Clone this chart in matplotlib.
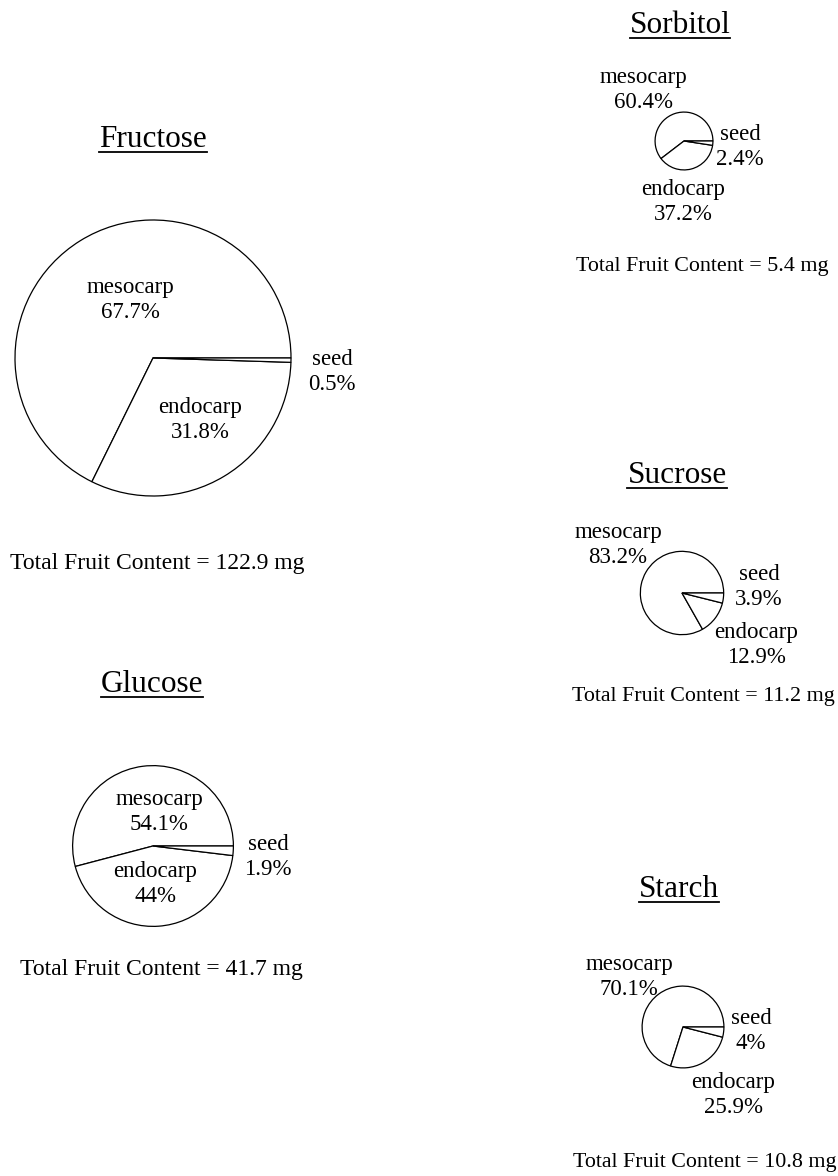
import numpy as np
import matplotlib
matplotlib.use("Agg")
import matplotlib.pyplot as plt

# data
sugars = ["Fructose", "Sorbitol", "Sucrose", "Glucose", "Starch"]
parts = ["mesocarp", "endocarp", "seed"]
fructose = [67.7, 31.8, 0.5]
sorbitol = [60.4, 37.2, 2.4]
sucrose = [83.2, 12.9, 3.9]
glucose = [54.1, 44, 1.9]
starch = [70.1, 25.9, 4]
totals = [122.9, 5.4, 11.2, 41.7, 10.8]  # mg

shares = [fructose, sorbitol, sucrose, glucose, starch]

# layout, in pixels from the top left corner
W, H = 838, 1176
centers = [(153, 358), (684, 141), (682, 593), (153, 846), (683, 1027)]
r_max = 138  # radius of the biggest pie, area goes with total content
title_pos = [(153, 147), (680, 33), (677, 483), (152, 692), (679, 897)]
total_pos = [(157, 563), (702, 266), (703, 696), (161, 970), (705, 1162)]
total_size = [17, 15.8, 15.8, 17, 15.8]
# label positions: mesocarp, endocarp, seed
label_pos = [
    [(130, 300), (200, 420), (332, 372)],
    [(643, 90), (683, 202), (740, 147)],
    [(618, 545), (756, 645), (759, 587)],
    [(159, 812), (155, 884), (268, 857)],
    [(629, 977), (733, 1095), (751, 1031)],
]

plt.rcParams['font.family'] = ['Liberation Serif', 'DejaVu Serif']

fig = plt.figure(figsize=(W / 100, H / 100), dpi=100)
ax = fig.add_axes([0, 0, 1, 1])

titles = []
for i, name in enumerate(sugars):
    cx, cy = centers[i]
    r = r_max * np.sqrt(totals[i] / max(totals))
    ax.pie(shares[i], center=(cx, H - cy), radius=r, startangle=0,
           counterclock=True, colors=["white"] * 3, frame=True,
           wedgeprops=dict(edgecolor="black", linewidth=0.9))

    for j, part in enumerate(parts):
        lx, ly = label_pos[i][j]
        ax.text(lx, H - ly, f"{part}\n{shares[i][j]:g}%", ha="center",
                va="center", fontsize=16.5, linespacing=1.25)

    tx, ty = title_pos[i]
    titles.append(ax.text(tx, H - ty, name, ha="center", va="baseline",
                          fontsize=22.5))

    sx, sy = total_pos[i]
    ax.text(sx, H - sy, f"Total Fruit Content = {totals[i]:g} mg",
            ha="center", va="center", fontsize=total_size[i])

ax.set_xlim(0, W)
ax.set_ylim(0, H)
ax.set_aspect("auto")
ax.axis("off")

# underline the titles
renderer = fig.canvas.get_renderer()
for i, t in enumerate(titles):
    bb = t.get_window_extent(renderer)
    y = H - title_pos[i][1] - 5
    ax.plot([bb.x0, bb.x1], [y, y], color="black", linewidth=1.3)

fig.savefig("out.png", dpi=100)
